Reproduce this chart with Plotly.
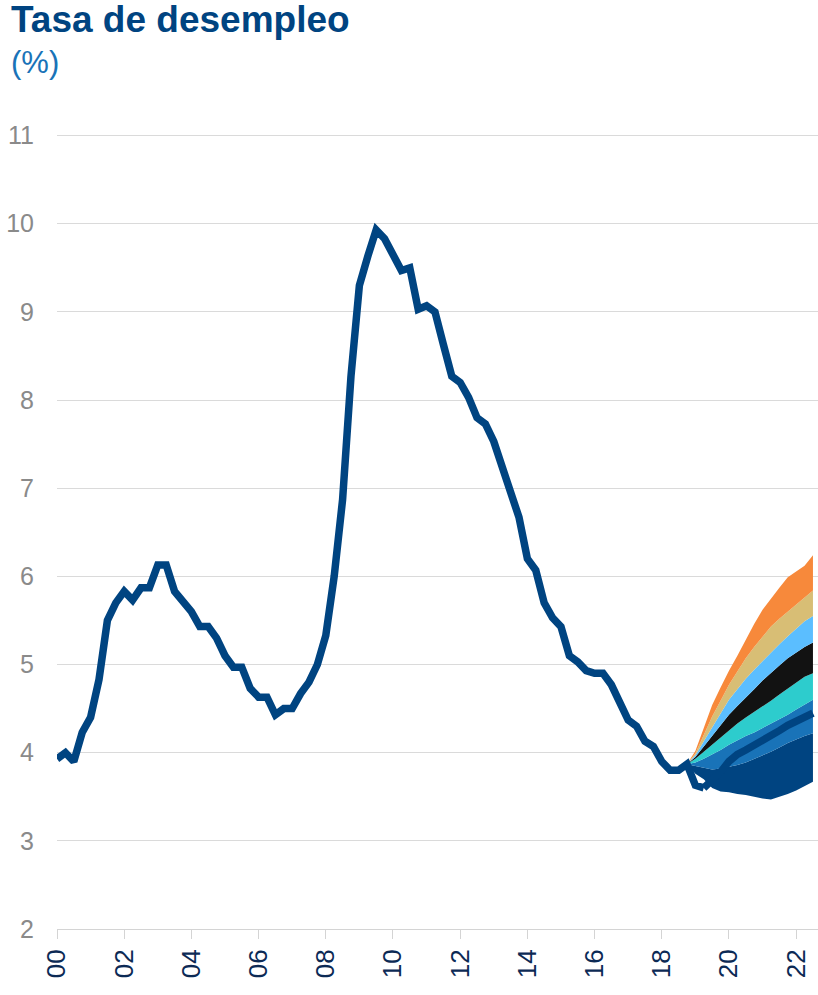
import plotly.graph_objects as go

# Unemployment rate, quarterly averages (%), first point plotted at 2000.0
hist_start = 2000.0
unemployment = [
    3.93, 4.00, 3.90,
    4.23, 4.40, 4.83, 5.50,
    5.70, 5.83, 5.73, 5.87,
    5.87, 6.13, 6.13, 5.83,
    5.70, 5.60, 5.43, 5.43,
    5.30, 5.10, 4.97, 4.97,
    4.73, 4.63, 4.63, 4.43,
    4.50, 4.50, 4.67, 4.80,
    5.00, 5.33, 6.00, 6.87,
    8.27, 9.30, 9.63, 9.93,
    9.83, 9.63, 9.47, 9.50,
    9.03, 9.07, 9.00, 8.63,
    8.27, 8.20, 8.03, 7.80,
    7.73, 7.53, 7.23, 6.93,
    6.67, 6.20, 6.07, 5.70,
    5.53, 5.43, 5.10, 5.03,
    4.93, 4.90, 4.90, 4.77,
    4.57, 4.37, 4.30, 4.13,
    4.07, 3.90, 3.80, 3.80,
    3.87, 3.63, 3.60,
]

# Central projection, continuing from the last observed quarter
central = [3.60, 3.68, 3.78, 3.90, 3.98, 4.03, 4.08, 4.13,
           4.18, 4.25, 4.31, 4.36, 4.41, 4.45]
central_start_idx = 77

# Fan chart band edges (bottom to top), quarterly from the fan origin
fan_start_idx = 75
band_b0 = [3.87, 3.76, 3.70, 3.60, 3.56, 3.55, 3.53, 3.52, 3.50, 3.48, 3.47, 3.50, 3.53, 3.57, 3.62, 3.67]
band_b1 = [3.87, 3.85, 3.83, 3.81, 3.82, 3.84, 3.86, 3.89, 3.93, 3.97, 4.01, 4.06, 4.11, 4.15, 4.19, 4.22]
band_b2 = [3.87, 3.89, 3.93, 3.98, 4.03, 4.09, 4.14, 4.19, 4.23, 4.28, 4.33, 4.38, 4.43, 4.49, 4.55, 4.60]
band_b3 = [3.87, 3.93, 4.01, 4.09, 4.18, 4.26, 4.33, 4.40, 4.46, 4.52, 4.59, 4.66, 4.73, 4.80, 4.86, 4.90]
band_b4 = [3.87, 3.95, 4.07, 4.19, 4.31, 4.43, 4.53, 4.62, 4.72, 4.82, 4.91, 4.99, 5.07, 5.14, 5.20, 5.25]
band_b5 = [3.87, 3.97, 4.13, 4.29, 4.45, 4.60, 4.72, 4.84, 4.94, 5.04, 5.14, 5.23, 5.32, 5.41, 5.49, 5.55]
band_b6 = [3.87, 3.99, 4.20, 4.41, 4.59, 4.77, 4.92, 5.07, 5.20, 5.32, 5.43, 5.52, 5.60, 5.68, 5.77, 5.84]
band_b7 = [3.87, 4.02, 4.28, 4.54, 4.74, 4.93, 5.10, 5.28, 5.46, 5.62, 5.75, 5.87, 5.99, 6.05, 6.12, 6.24]

band_colors = ["#004481", "#1973B8", "#2DCCCD", "#121212", "#5BBEFF", "#D8BE75", "#F7893B"]

x_ticks = [2000, 2002, 2004, 2006, 2008, 2010, 2012, 2014, 2016, 2018, 2020, 2022]
x_tick_labels = ["00", "02", "04", "06", "08", "10", "12", "14", "16", "18", "20", "22"]
y_ticks = [2, 3, 4, 5, 6, 7, 8, 9, 10, 11]

NAVY = "#004481"
FONT = "Liberation Sans, Arial, sans-serif"

# plot area geometry (pixels) used to place the header texts
PLOT_LEFT, PLOT_W, PLOT_BOTTOM, PLOT_H = 57, 761, 929, 804


def quarter_x(start_idx, n):
    return [hist_start + 0.25 * (start_idx + i) for i in range(n)]


def px_to_paper(px, py):
    return (px - PLOT_LEFT) / PLOT_W, (PLOT_BOTTOM - py) / PLOT_H


fig = go.Figure()

fan_x = quarter_x(fan_start_idx, len(band_b0))
edges = [band_b0, band_b1, band_b2, band_b3, band_b4, band_b5, band_b6, band_b7]
fig.add_trace(go.Scatter(x=fan_x, y=band_b0, mode="lines", line=dict(width=0),
                         hoverinfo="skip", showlegend=False))
for edge, color in zip(edges[1:], band_colors):
    fig.add_trace(go.Scatter(x=fan_x, y=edge, mode="lines", line=dict(width=0),
                             fill="tonexty", fillcolor=color,
                             hoverinfo="skip", showlegend=False))

fig.add_trace(go.Scatter(x=quarter_x(0, len(unemployment)), y=unemployment,
                         mode="lines", line=dict(color=NAVY, width=7.5),
                         showlegend=False))
fig.add_trace(go.Scatter(x=quarter_x(central_start_idx, len(central)), y=central,
                         mode="lines", line=dict(color=NAVY, width=7.5),
                         showlegend=False))

tx, ty = px_to_paper(9, -3)
sx, sy = px_to_paper(9, 43)

fig.update_layout(
    width=818, height=995,
    margin=dict(l=PLOT_LEFT, r=0, t=125, b=66),
    paper_bgcolor="white", plot_bgcolor="white",
    font=dict(family=FONT),
    annotations=[
        dict(text="<b>Tasa de desempleo</b>", xref="paper", yref="paper",
             x=tx, y=ty, xanchor="left", yanchor="top", showarrow=False,
             font=dict(size=37, color=NAVY, family=FONT)),
        dict(text="(%)", xref="paper", yref="paper",
             x=sx, y=sy, xanchor="left", yanchor="top", showarrow=False,
             font=dict(size=31, color="#1973B8", family=FONT)),
    ],
    xaxis=dict(range=[2000, 2022.65], tickvals=x_ticks, ticktext=x_tick_labels,
               tickangle=-90, ticks="outside", ticklen=9, tickcolor="#d4d4d4",
               tickwidth=1, showgrid=False, zeroline=False,
               showline=True, linecolor="#d4d4d4", linewidth=1,
               tickfont=dict(size=26, color="#0c2a55", family=FONT)),
    yaxis=dict(range=[2, 11.12], tickvals=y_ticks, showgrid=True,
               gridcolor="#dadada", gridwidth=1, zeroline=False,
               ticks="", ticklabelstandoff=22,
               tickfont=dict(size=25, color="#8a8a8a", family=FONT)),
)

fig.write_html("out.html")
